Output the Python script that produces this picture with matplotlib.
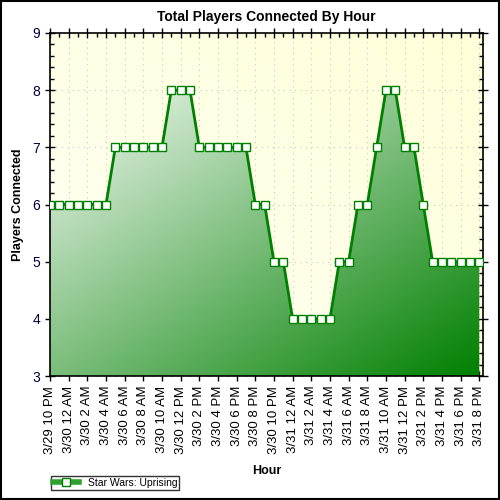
import numpy as np
import matplotlib.pyplot as plt
from matplotlib.lines import Line2D
from matplotlib.patches import Rectangle
from matplotlib.ticker import MultipleLocator

plt.rcParams['font.family'] = ['Liberation Sans', 'DejaVu Sans']

# hourly samples, 3/29 10 PM .. 3/31 8 PM
players = [6, 6, 6, 6, 6, 6, 6,
           7, 7, 7, 7, 7, 7,
           8, 8, 8,
           7, 7, 7, 7, 7, 7,
           6, 6,
           5, 5,
           4, 4, 4, 4, 4,
           5, 5,
           6, 6,
           7,
           8, 8,
           7, 7,
           6,
           5, 5, 5, 5, 5, 5]


def hour_label(i):
    total = 22 + i
    day = 29 + total // 24
    h = total % 24
    ampm = 'AM' if h < 12 else 'PM'
    h12 = h % 12
    if h12 == 0:
        h12 = 12
    return f"3/{day} {h12} {ampm}"


labels = [hour_label(i) for i in range(len(players))]
x = np.arange(len(players))

fig = plt.figure(figsize=(5, 5), dpi=100)
ax = fig.add_axes([0.100, 0.248, 0.866, 0.686])

xmax = len(players) - 1 + 0.4

# plot background gradient (row 0 = top)
gx, gy = np.meshgrid(np.linspace(0, 1, 100), np.linspace(0, 1, 100))
yel = np.array([1.0, 1.0, 0.85])
pale = np.array([1.0, 1.0, 0.96])
w = (gx + (1 - gy)) / 2
bg = pale + (yel - pale) * w[..., None]
ax.imshow(bg, extent=[0, xmax, 3, 9], aspect='auto', zorder=0)

# gradient fill under the line, spanning the data's bounding box
poly = ax.fill_between(x, 3, players, color='none', zorder=2)
light = np.array([245, 250, 245]) / 255
dark = np.array([0, 128, 0]) / 255
fx, fy = np.meshgrid(np.linspace(0, 1, 200), np.linspace(0, 1, 200))
s = (fx + fy) / 2
fg = light + (dark - light) * s[..., None]
im = ax.imshow(fg, extent=[0, len(players) - 1, 3, max(players)], aspect='auto', zorder=2)
im.set_clip_path(poly.get_paths()[0], transform=ax.transData)
ax.set_xlim(0, xmax)
ax.set_ylim(3, 9)

ax.plot(x, players, color='#008000', lw=2, marker='s', ms=6,
        mfc='white', mec='#008000', mew=1.0, zorder=4)

# grid
for yv in range(4, 9):
    ax.axhline(yv, color='#c8c8c8', lw=0.8, ls=(0, (1, 4)), zorder=1)
for xv in x[::2]:
    ax.axvline(xv, color='#c8c8c8', lw=0.8, ls=(0, (1, 4)), zorder=1)

ax.set_xticks(x[::2])
ax.set_xticklabels(labels[::2], rotation=90, fontsize=9.5)
ax.set_xticks(x, minor=True)
ax.yaxis.set_major_locator(MultipleLocator(1))
ax.yaxis.set_minor_locator(MultipleLocator(0.2))
ax.tick_params(axis='y', labelsize=10, labelcolor='#000040')
ax.tick_params(which='major', direction='inout', length=7, width=1,
               top=True, right=True, labeltop=False, labelright=False)
ax.tick_params(which='minor', direction='in', length=3, width=1,
               top=True, right=True)
for sp in ax.spines.values():
    sp.set_linewidth(1.2)

ax.set_title('Total Players Connected By Hour', fontsize=10, fontweight='bold', pad=9)
ax.set_ylabel('Players Connected', fontsize=9, fontweight='bold', labelpad=6)
ax.set_xlabel('Hour', fontsize=9, fontweight='bold', labelpad=8)

handle = Line2D([0], [0], color='#30a030', lw=4, marker='s', ms=6,
                mfc='white', mec='#008000')
fig.legend([handle], ['Star Wars: Uprising'], loc='lower left',
           bbox_to_anchor=(0.092, 0.010), fontsize=7.5, frameon=True,
           fancybox=False, edgecolor='black', borderpad=0.2,
           handlelength=2.5, handletextpad=0.8)

fig.patches.append(Rectangle((0.002, 0.002), 0.996, 0.996, transform=fig.transFigure,
                             fill=False, edgecolor='black', lw=1.5))

fig.savefig('out.png', dpi=100)
